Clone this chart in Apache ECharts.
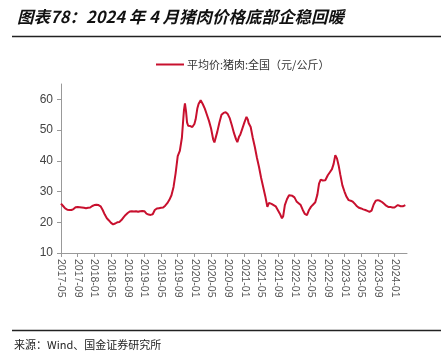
<!DOCTYPE html>
<html>
<head>
<meta charset="utf-8">
<script src="https://cdn.jsdelivr.net/npm/echarts@6/dist/echarts.min.js"></script>
<style>html,body{margin:0;padding:0;background:#fff}#c{width:441px;height:360px}</style>
</head>
<body>
<div id="c"></div>
<script>
const seriesName = '平均价:猪肉:全国（元/公斤）';
const startYear = 2017, startMonth = 5;
const dates = [
'2017-05-01','2017-05-16','2017-06-01','2017-06-16','2017-07-01','2017-07-16','2017-08-01','2017-08-16','2017-09-01','2017-09-16',
'2017-10-01','2017-10-16','2017-11-01','2017-11-16','2017-12-01','2017-12-16','2018-01-01','2018-01-16','2018-02-01','2018-02-16',
'2018-03-01','2018-03-16','2018-04-01','2018-04-16','2018-05-01','2018-05-16','2018-06-01','2018-06-16','2018-07-01','2018-07-16',
'2018-08-01','2018-08-16','2018-09-01','2018-09-16','2018-10-01','2018-10-16','2018-11-01','2018-11-16','2018-12-01','2018-12-16',
'2019-01-01','2019-01-16','2019-02-01','2019-02-16','2019-03-01','2019-03-16','2019-04-01','2019-04-16','2019-05-01','2019-05-16',
'2019-06-01','2019-06-16','2019-07-01','2019-07-16','2019-08-01','2019-08-16','2019-09-01','2019-09-16','2019-10-01','2019-10-10',
'2019-10-16','2019-10-23','2019-11-01','2019-11-08','2019-11-16','2019-12-01','2019-12-16','2020-01-01','2020-01-10','2020-01-22',
'2020-02-01','2020-02-16','2020-03-01','2020-03-16','2020-04-01','2020-04-16','2020-05-01','2020-05-16','2020-05-25','2020-06-01',
'2020-06-16','2020-07-01','2020-07-16','2020-08-01','2020-08-16','2020-09-01','2020-09-16','2020-10-01','2020-10-16','2020-11-01',
'2020-11-10','2020-11-22','2020-12-01','2020-12-16','2021-01-01','2021-01-16','2021-01-25','2021-02-01','2021-02-16','2021-03-01',
'2021-03-16','2021-04-01','2021-04-16','2021-05-01','2021-05-16','2021-06-01','2021-06-16','2021-06-28','2021-07-16','2021-08-01',
'2021-08-16','2021-09-01','2021-09-16','2021-10-01','2021-10-10','2021-10-22','2021-11-07','2021-11-22','2021-12-01','2021-12-16',
'2022-01-01','2022-01-16','2022-02-01','2022-02-16','2022-03-01','2022-03-16','2022-04-01','2022-04-16','2022-05-01','2022-05-16',
'2022-06-01','2022-06-16','2022-06-28','2022-07-10','2022-07-25','2022-08-13','2022-09-01','2022-09-16','2022-10-01','2022-10-13',
'2022-10-25','2022-11-07','2022-11-19','2022-12-01','2022-12-16','2023-01-01','2023-01-16','2023-02-01','2023-02-16','2023-03-01',
'2023-03-16','2023-04-01','2023-04-16','2023-05-01','2023-05-16','2023-06-01','2023-06-16','2023-07-01','2023-07-16','2023-08-01',
'2023-08-16','2023-09-01','2023-09-16','2023-10-01','2023-10-16','2023-11-01','2023-11-16','2023-12-01','2023-12-16','2024-01-01',
'2024-01-13','2024-01-25','2024-02-04','2024-02-16','2024-03-01','2024-03-19'
];
const prices = [
26.1,25.3,24.5,24.1,24.0,24.0,24.3,24.9,25.0,24.9,
24.8,24.7,24.6,24.7,24.8,25.3,25.6,25.7,25.6,25.2,
24.0,22.5,21.3,20.6,19.8,19.3,19.6,20.0,20.1,20.7,
21.6,22.4,23.0,23.5,23.6,23.5,23.6,23.4,23.6,23.7,
23.6,22.8,22.5,22.4,22.6,24.0,24.5,24.6,24.7,24.8,
25.4,26.2,27.3,28.8,31.5,36.0,41.5,43.2,47.5,53.0,
56.5,58.7,56.0,52.5,51.4,51.3,51.0,52.0,53.5,57.0,
58.5,59.7,58.5,57.0,55.0,53.0,50.5,47.0,46.0,46.5,
49.5,52.5,55.0,55.6,55.8,55.2,53.8,51.5,49.0,47.0,
46.1,47.8,48.5,50.5,52.5,54.3,53.5,52.3,51.0,47.5,
44.5,41.0,38.0,34.5,31.5,28.5,25.0,26.3,26.0,25.6,
25.2,24.0,22.8,21.3,22.0,25.6,27.5,28.8,29.1,28.6,
28.1,26.8,26.2,25.6,24.0,22.7,22.3,24.0,25.1,25.8,
26.5,29.0,32.6,33.9,33.6,33.7,35.3,36.3,37.3,39.0,
41.8,40.8,38.5,35.5,32.0,30.0,28.3,27.2,27.0,26.7,
26.0,25.2,24.7,24.5,24.2,24.0,23.7,23.4,23.8,25.8,
27.0,27.2,27.0,26.6,26.0,25.4,25.0,25.0,24.8,24.8,
24.3,25.6,25.8,25.2,25.2,25.6
];
const yTicks = [10, 20, 30, 40, 50, 60];

function monthIndex(s) {
  const [y, m, d] = s.split('-').map(Number);
  return (y - startYear) * 12 + (m - startMonth) + (d - 1) / 30;
}
function idxToLabel(v) {
  const total = startMonth - 1 + Math.round(v);
  const y = startYear + Math.floor(total / 12);
  const m = total % 12 + 1;
  return y + '-' + (m < 10 ? '0' + m : m);
}
const points = dates.map((d, i) => [monthIndex(d), prices[i]]);

const chart = echarts.init(document.getElementById('c'), null, {renderer: 'canvas'});
const red = '#C8102E';
chart.setOption({
  animation: false,
  backgroundColor: '#fff',
  title: {
    text: '图表78：2024 年 4 月猪肉价格底部企稳回暖',
    left: 12, top: 3,
    textStyle: {fontFamily: 'Noto Sans CJK SC', fontSize: 16.5, fontWeight: 'bold', fontStyle: 'italic', color: '#111'}
  },
  graphic: [
    {type: 'line', shape: {x1: 12, y1: 36.5, x2: 441, y2: 36.5}, style: {stroke: '#222', lineWidth: 1.5}},
    {type: 'line', shape: {x1: 12, y1: 330.5, x2: 441, y2: 330.5}, style: {stroke: '#222', lineWidth: 1.5}},
    {type: 'text', left: 14, top: 339, style: {text: '来源：Wind、国金证券研究所', font: '11px "Noto Sans CJK SC"', fill: '#222'}}
  ],
  legend: {
    top: 54, left: 151,
    itemWidth: 28, itemHeight: 2, itemGap: 4,
    icon: 'rect',
    textStyle: {fontFamily: 'Noto Sans CJK SC', fontSize: 11, color: '#333', padding: [0, 0, 0, -2]},
    data: [seriesName]
  },
  grid: {left: 61, right: 34, top: 84, bottom: 107},
  xAxis: {
    type: 'value', min: 0, max: 83, interval: 4,
    splitLine: {show: false},
    axisLine: {lineStyle: {color: '#999'}},
    axisTick: {show: true, length: 4, lineStyle: {color: '#999'}},
    axisLabel: {
      rotate: -90, fontFamily: 'Liberation Sans', fontSize: 10.5, color: '#555', margin: 6,
      showMaxLabel: false,
      formatter: v => (Math.abs(v % 4) < 1e-6 ? idxToLabel(v) : '')
    }
  },
  yAxis: {
    type: 'value', min: 10, max: 65, interval: 10,
    splitLine: {show: false},
    axisLine: {show: true, lineStyle: {color: '#999'}},
    axisTick: {show: true, length: 4, lineStyle: {color: '#999'}},
    axisLabel: {
      fontFamily: 'Liberation Sans', fontSize: 12, color: '#444', margin: 8,
      showMaxLabel: false,
      formatter: v => (yTicks.indexOf(v) >= 0 ? String(v) : '')
    }
  },
  series: [{
    name: seriesName, type: 'line', data: points,
    showSymbol: false, symbol: 'none',
    lineStyle: {color: red, width: 2},
    itemStyle: {color: red}
  }]
});
</script>
</body>
</html>
